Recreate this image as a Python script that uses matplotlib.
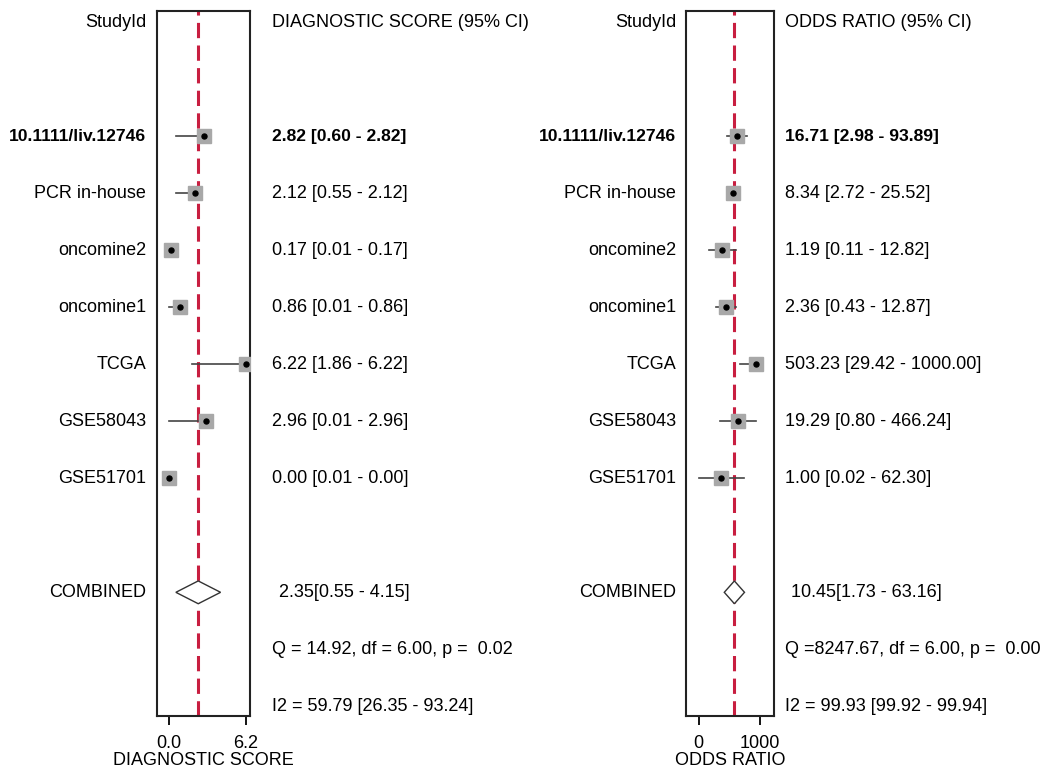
import numpy as np
import matplotlib.pyplot as plt
from matplotlib.transforms import blended_transform_factory

plt.rcParams['font.family'] = ['Liberation Sans', 'DejaVu Sans']

# study data
studies = ['10.1111/liv.12746', 'PCR in-house', 'oncomine2', 'oncomine1',
           'TCGA', 'GSE58043', 'GSE51701']

ds_est = [2.82, 2.12, 0.17, 0.86, 6.22, 2.96, 0.00]
ds_lo = [0.60, 0.55, 0.01, 0.01, 1.86, 0.01, 0.01]
ds_hi = [2.82, 2.12, 0.17, 0.86, 6.22, 2.96, 0.00]
ds_comb = [2.35, 0.55, 4.15]
ds_q = 'Q = 14.92, df = 6.00, p =  0.02'
ds_i2 = 'I2 = 59.79 [26.35 - 93.24]'

or_est = [16.71, 8.34, 1.19, 2.36, 503.23, 19.29, 1.00]
or_lo = [2.98, 2.72, 0.11, 0.43, 29.42, 0.80, 0.02]
or_hi = [93.89, 25.52, 12.82, 12.87, 1000.00, 466.24, 62.30]
or_comb = [10.45, 1.73, 63.16]
or_q = 'Q =8247.67, df = 6.00, p =  0.00'
or_i2 = 'I2 = 99.93 [99.92 - 99.94]'

W, H = 1044, 769
fig = plt.figure(figsize=(W / 100, H / 100), dpi=100)

rows = np.arange(2, 2 + len(studies))
row_comb, row_q, row_i2 = 10, 11, 12
fs = 13


def px(x):
    return x / W


def forest(ax, est, lo, hi, comb, qtxt, i2txt, head, xlab,
           lab_x, val_x, comb_x, ticks, ticklabels, xlim, log=False):
    if log:
        ax.set_xscale('log')
    ax.set_xlim(*xlim)
    ax.set_ylim(12.17, -0.2)
    tr = blended_transform_factory(fig.transFigure, ax.transData)

    # pooled estimate line
    ax.axvline(comb[0], color='#c81e40', lw=2.2, ls=(0, (5, 2.4)), zorder=1)

    for r, e, l, h in zip(rows, est, lo, hi):
        ax.plot([l, h], [r, r], color='#444444', lw=1.2, zorder=2)
        ax.plot(e, r, 's', ms=9.6, mfc='#a8a8a8', mec='#a8a8a8', zorder=3)
        ax.plot(e, r, 'o', ms=3.6, color='black', zorder=4)

    # diamond for combined estimate
    est_c, lo_c, hi_c = comb
    ax.fill([lo_c, est_c, hi_c, est_c, lo_c],
            [row_comb, row_comb - 0.2, row_comb, row_comb + 0.2, row_comb],
            facecolor='white', edgecolor='#333333', lw=1.0, zorder=3)

    ax.text(lab_x, 0, 'StudyId', transform=tr, ha='right', va='center', fontsize=fs)
    ax.text(val_x, 0, head, transform=tr, ha='left', va='center', fontsize=fs)
    for i, (r, name, e, l, h) in enumerate(zip(rows, studies, est, lo, hi)):
        w = 'bold' if i == 0 else 'normal'
        ax.text(lab_x, r, name, transform=tr, ha='right', va='center',
                fontsize=fs if i else 12.6, fontweight=w)
        ax.text(val_x, r, f'{e:.2f} [{l:.2f} - {h:.2f}]', transform=tr,
                ha='left', va='center', fontsize=fs if i else 12.6, fontweight=w)
    ax.text(lab_x, row_comb, 'COMBINED', transform=tr, ha='right', va='center', fontsize=fs)
    ax.text(comb_x, row_comb, f'{est_c:.2f}[{lo_c:.2f} - {hi_c:.2f}]', transform=tr,
            ha='left', va='center', fontsize=fs)
    ax.text(val_x, row_q, qtxt, transform=tr, ha='left', va='center', fontsize=fs)
    ax.text(val_x, row_i2, i2txt, transform=tr, ha='left', va='center', fontsize=fs)

    ax.set_yticks([])
    ax.set_xticks(ticks)
    ax.set_xticklabels(ticklabels)
    ax.minorticks_off()
    ax.tick_params(axis='x', direction='out', length=6.5, width=1.3,
                   pad=7, labelsize=fs)
    ax.set_xlabel(xlab, fontsize=fs, labelpad=0.5)
    for s in ax.spines.values():
        s.set_linewidth(1.5)
        s.set_color('#222222')


ax1 = fig.add_axes([px(157), 1 - 716 / H, px(93), (716 - 11) / H])
forest(ax1, ds_est, ds_lo, ds_hi, ds_comb, ds_q, ds_i2,
       'DIAGNOSTIC SCORE (95% CI)', 'DIAGNOSTIC SCORE',
       px(146), px(272), px(279), [0, 6.2], ['0.0', '6.2'], (-0.97, 6.52))

ax2 = fig.add_axes([px(686), 1 - 716 / H, px(88), (716 - 11) / H])
forest(ax2, or_est, or_lo, or_hi, or_comb, or_q, or_i2,
       'ODDS RATIO (95% CI)', 'ODDS RATIO',
       px(676), px(785), px(791), [0.0186, 1000], ['0', '1000'],
       (10 ** -2.72, 10 ** 4.08), log=True)

fig.savefig('out.png', dpi=100)
